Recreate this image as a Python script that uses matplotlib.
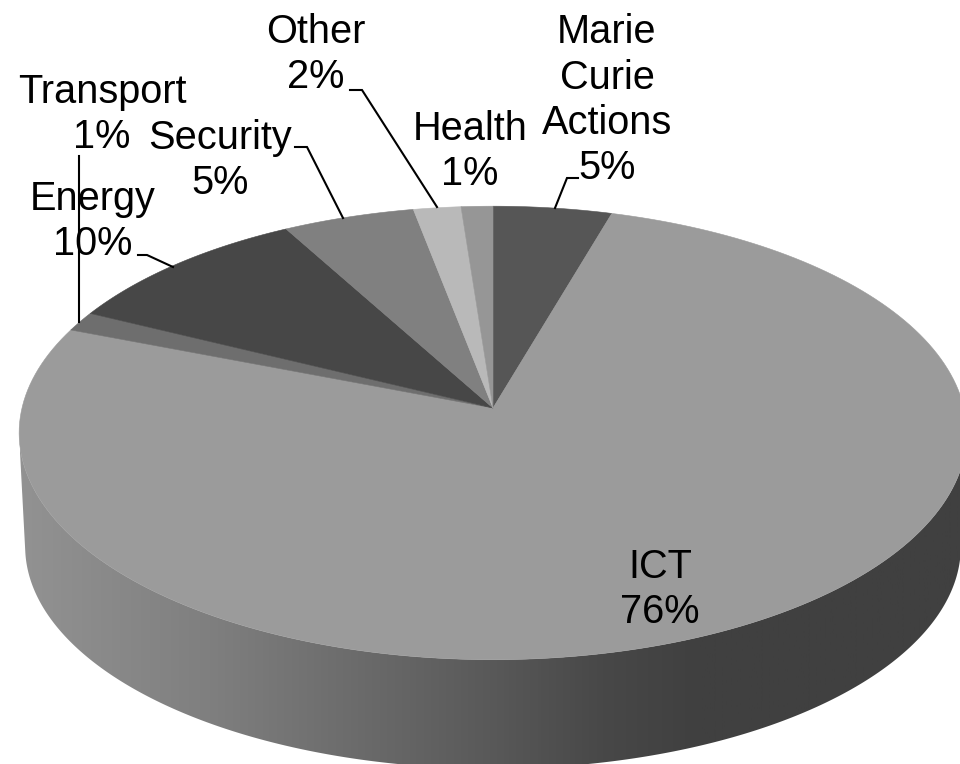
import numpy as np
import matplotlib
matplotlib.use("Agg")
import matplotlib.pyplot as plt
from matplotlib.colors import LinearSegmentedColormap
from matplotlib.patches import Polygon

categories = ["Marie\nCurie\nActions", "ICT", "Transport", "Energy", "Security", "Other", "Health"]
values = [4.5, 76.4, 1.4, 9.7, 5, 1.8, 1.2]
value_labels = ["5%", "76%", "1%", "10%", "5%", "2%", "1%"]
slice_colors = ["#565656", "#9b9b9b", "#6e6e6e", "#474747", "#808080", "#b9b9b9", "#969696"]

label_pos = [(607, 179), (660, 623), (102, 148), (93, 255), (220, 194), (316, 88), (470, 185)]
leaders = [
    [(578, 178), (567, 178), (555, 208)],
    None,
    [(79, 156), (79, 322)],
    [(138, 255), (147, 255), (173, 267)],
    [(295, 147), (307, 147), (343, 218)],
    [(350, 90), (362, 90), (437, 207)],
    None,
]

CX, CY = 493.0, 408.0
A, B, K = 471.0, 224.0, 0.11


def top(theta):
    X, Y = np.sin(theta), np.cos(theta)
    d = 1 + K * Y
    return CX + A * X / d, CY - B * Y / d


def bottom(theta):
    X, Y = np.sin(theta), np.cos(theta)
    d = 1 + K * Y
    return CX + 465 * X / d, CY + 114 - 0.98 * B * Y / d


fig = plt.figure(figsize=(9.6, 7.64), dpi=100, facecolor="white")
ax = fig.add_axes([0, 0, 1, 1])

# side wall
th = np.linspace(np.radians(98), np.radians(262), 400)
tx, ty = top(th)
bx, by = bottom(th)
wall = np.column_stack([np.r_[tx, bx[::-1]], np.r_[ty, by[::-1]]])
cmap = LinearSegmentedColormap.from_list(
    "wall",
    [(0.0, "#929292"), (0.2, "#7f7f7f"), (0.5, "#595959"), (0.62, "#484848"), (0.72, "#404040"), (1.0, "#404040")],
)
grad = np.linspace(0, 1, 960).reshape(1, -1)
im = ax.imshow(grad, cmap=cmap, vmin=0, vmax=1, extent=(20, 960, 764, 300), aspect="auto", zorder=1)
clip = Polygon(wall, transform=ax.transData, fc="none", ec="none")
ax.add_patch(clip)
im.set_clip_path(clip)

# top face
edges = np.r_[0, np.cumsum(values)] / np.sum(values) * 2 * np.pi
for i, c in enumerate(slice_colors):
    t = np.linspace(edges[i], edges[i + 1], 200)
    x, y = top(t)
    ax.fill(np.r_[CX, x], np.r_[CY, y], color=c, lw=0.4, zorder=2)

# labels
for name, pct, (px, py) in zip(categories, value_labels, label_pos):
    ax.text(px, py, f"{name}\n{pct}", ha="center", va="baseline", multialignment="center",
            fontsize=28.6, family="Liberation Sans", color="black", zorder=4, linespacing=1.24)

for seg in leaders:
    if seg:
        sx, sy = zip(*seg)
        ax.plot(sx, sy, color="black", lw=1.5, zorder=3, solid_joinstyle="miter")

ax.set_xlim(0, 960)
ax.set_ylim(764, 0)
ax.axis("off")

fig.savefig("out.png", dpi=100, facecolor="white")
